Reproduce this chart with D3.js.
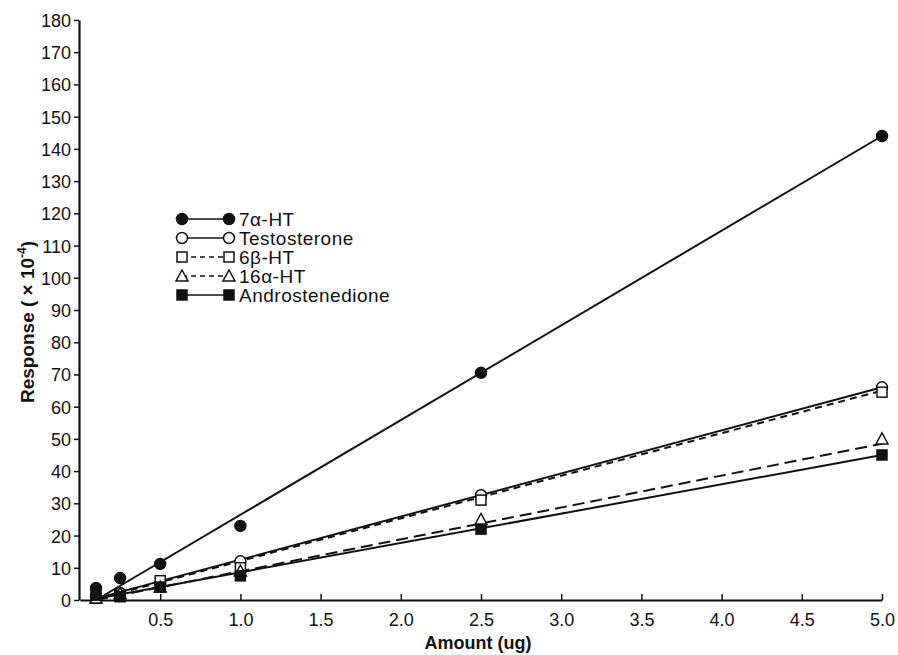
<!DOCTYPE html>
<html><head><meta charset="utf-8">
<script src="https://cdn.jsdelivr.net/npm/d3@7"></script>
<style>body{margin:0;background:#fff}svg{display:block}text{font-family:"Liberation Sans",Arial,sans-serif;fill:#111}</style>
</head><body><svg id="c" width="898" height="655"></svg>
<script>
const amounts = [0.1, 0.25, 0.5, 1.0, 2.5, 5.0];
const seriesNames = ["7α-HT", "Testosterone", "6β-HT", "16α-HT", "Androstenedione"];
const hydroxy7a = [3.7, 6.8, 11.2, 23, 70.5, 144];
const testosterone = [1.0, 2.2, 5.0, 12, 32.5, 66];
const hydroxy6b = [0.6, 1.5, 6.0, 10, 31, 64.5];
const hydroxy16a = [0.6, 2.0, 4.0, 9, 25, 50];
const androstenedione = [1.5, 1.0, 4.0, 7.5, 22, 45];
const fitX = [0.1, 5.0];
const fit7a = [0, 144];
const fitTest = [0.5, 66];
const fit6b = [0.2, 65];
const fit16a = [0, 48.5];
const fitAndro = [0.4, 45];
const xTicks = [0.5, 1.0, 1.5, 2.0, 2.5, 3.0, 3.5, 4.0, 4.5, 5.0];
const yTicks = d3.range(0, 181, 10);

const svg = d3.select("#c");
const x = d3.scaleLinear().domain([0, 5]).range([80, 882]);
const y = d3.scaleLinear().domain([0, 180]).range([600, 20]);

const series = [
  {name: seriesNames[0], vals: hydroxy7a, fit: fit7a, sym: "circle", fill: true, dash: null},
  {name: seriesNames[1], vals: testosterone, fit: fitTest, sym: "circle", fill: false, dash: null},
  {name: seriesNames[2], vals: hydroxy6b, fit: fit6b, sym: "square", fill: false, dash: "7,5"},
  {name: seriesNames[3], vals: hydroxy16a, fit: fit16a, sym: "triangle", fill: false, dash: "12,6"},
  {name: seriesNames[4], vals: androstenedione, fit: fitAndro, sym: "square", fill: true, dash: null}
];

// axes
const xAxis = svg.append("g").attr("transform", `translate(0,${y(0)})`)
  .call(d3.axisBottom(x).tickValues(xTicks).tickFormat(d3.format(".1f")).tickSizeInner(-6).tickSizeOuter(0).tickPadding(13));
const yAxis = svg.append("g").attr("transform", `translate(${x(0)-1},0)`)
  .call(d3.axisLeft(y).tickValues(yTicks).tickSizeInner(5).tickSizeOuter(0).tickPadding(3));
[xAxis, yAxis].forEach(g => {
  g.select(".domain").attr("stroke", "#111").attr("stroke-width", 2.2);
  g.selectAll(".tick line").attr("stroke", "#111").attr("stroke-width", 1.5);
  g.selectAll(".tick text").attr("font-size", 18).attr("fill", "#111");
});
yAxis.selectAll(".tick text").attr("dy", "0.36em");

svg.append("text").attr("x", 478).attr("y", 649).attr("text-anchor", "middle")
  .attr("font-size", 18).attr("font-weight", "bold").text("Amount (ug)");
const yl = svg.append("text").attr("transform", "translate(34,322) rotate(-90)").attr("text-anchor", "middle")
  .attr("font-size", 19).attr("font-weight", "bold");
yl.append("tspan").text("Response ( × 10");
yl.append("tspan").attr("font-size", 12).attr("dy", -8).text("-4");
yl.append("tspan").attr("dy", 8).text(")");

// symbols
function drawSym(g, s, cx, cy) {
  const fill = s.fill ? "#111" : "#fff";
  if (s.sym === "circle") {
    g.append("circle").attr("cx", cx).attr("cy", cy).attr("r", 5.5)
      .attr("fill", fill).attr("stroke", "#111").attr("stroke-width", 1.5);
  } else if (s.sym === "square") {
    g.append("rect").attr("x", cx - 5).attr("y", cy - 5).attr("width", 10).attr("height", 10)
      .attr("fill", fill).attr("stroke", "#111").attr("stroke-width", 1.5);
  } else {
    g.append("path").attr("d", `M${cx},${cy-6}L${cx+6},${cy+5}L${cx-6},${cy+5}Z`)
      .attr("fill", fill).attr("stroke", "#111").attr("stroke-width", 1.5);
  }
}

const line = d3.line().x(d => x(d[0])).y(d => y(d[1]));
series.forEach(s => {
  svg.append("path").datum(fitX.map((v, i) => [v, s.fit[i]]))
    .attr("d", line).attr("fill", "none").attr("stroke", "#111").attr("stroke-width", 2)
    .attr("stroke-dasharray", s.dash);
});
series.forEach(s => {
  const g = svg.append("g");
  amounts.forEach((a, i) => drawSym(g, s, x(a), y(s.vals[i])));
});

// legend
const lg = svg.append("g");
series.forEach((s, i) => {
  const ly = 219 + i * 19;
  lg.append("line").attr("x1", 182).attr("x2", 229).attr("y1", ly).attr("y2", ly)
    .attr("stroke", "#111").attr("stroke-width", 1.5).attr("stroke-dasharray", s.dash ? "5,4" : null);
  drawSym(lg, s, 182, ly);
  drawSym(lg, s, 229, ly);
  lg.append("text").attr("x", 239).attr("y", ly).attr("dy", "0.36em")
    .attr("font-size", 19).attr("letter-spacing", 0.5).text(s.name);
});
</script></body></html>
